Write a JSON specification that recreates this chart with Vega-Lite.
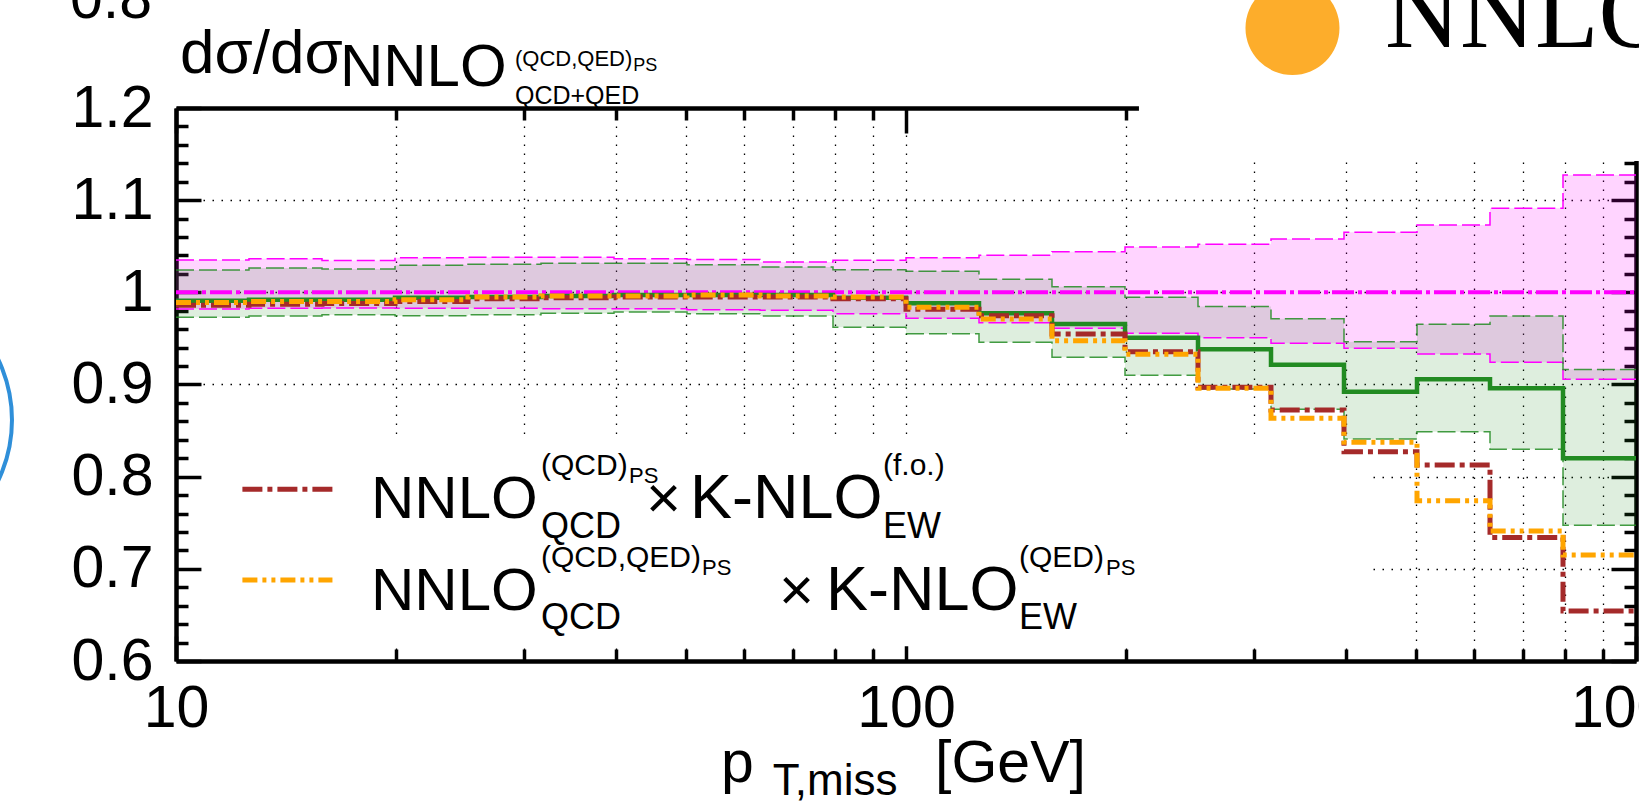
{
  "$schema": "https://vega.github.io/schema/vega-lite/v6.json",
  "width": 1460,
  "height": 553,
  "autosize": {"type": "none"},
  "padding": {"left": 176, "top": 108, "right": 3, "bottom": 140},
  "background": "white",
  "config": {
    "view": {"stroke": null},
    "axis": {"labelFont": "Liberation Sans", "labelColor": "black", "tickColor": "black", "domainColor": "black", "gridColor": "black", "title": null, "grid": false, "labelFlush": false, "labelOverlap": false, "labelBound": false}
  },
  "resolve": {"axis": {"x": "independent", "y": "independent"}},
  "datasets": {
    "bins": [
      {"x": 10, "mu": 1.035, "ml": 0.982, "gu": 1.0242, "gl": 0.9729, "gc": 0.991, "r": 0.986, "o": 0.989, "one": 1},
      {"x": 12.589, "mu": 1.0365, "ml": 0.9827, "gu": 1.0264, "gl": 0.9743, "gc": 0.992, "r": 0.987, "o": 0.99, "one": 1},
      {"x": 15.849, "mu": 1.0345, "ml": 0.983, "gu": 1.0253, "gl": 0.9757, "gc": 0.992, "r": 0.988, "o": 0.99, "one": 1},
      {"x": 19.953, "mu": 1.0376, "ml": 0.9827, "gu": 1.0293, "gl": 0.9747, "gc": 0.994, "r": 0.99, "o": 0.992, "one": 1},
      {"x": 25.119, "mu": 1.038, "ml": 0.9827, "gu": 1.0304, "gl": 0.9757, "gc": 0.995, "r": 0.993, "o": 0.995, "one": 1},
      {"x": 31.623, "mu": 1.038, "ml": 0.9823, "gu": 1.0315, "gl": 0.9772, "gc": 0.996, "r": 0.994, "o": 0.996, "one": 1},
      {"x": 39.811, "mu": 1.0365, "ml": 0.9823, "gu": 1.0315, "gl": 0.9787, "gc": 0.997, "r": 0.995, "o": 0.996, "one": 1},
      {"x": 50.119, "mu": 1.0355, "ml": 0.9812, "gu": 1.03, "gl": 0.9768, "gc": 0.997, "r": 0.995, "o": 0.997, "one": 1},
      {"x": 63.096, "mu": 1.033, "ml": 0.9805, "gu": 1.0275, "gl": 0.9743, "gc": 0.997, "r": 0.995, "o": 0.996, "one": 1},
      {"x": 79.433, "mu": 1.0347, "ml": 0.9768, "gu": 1.0246, "gl": 0.962, "gc": 0.994, "r": 0.993, "o": 0.995, "one": 1},
      {"x": 100, "mu": 1.0376, "ml": 0.9718, "gu": 1.023, "gl": 0.955, "gc": 0.9881, "r": 0.9816, "o": 0.9838, "one": 1},
      {"x": 125.89, "mu": 1.0402, "ml": 0.9671, "gu": 1.0141, "gl": 0.9458, "gc": 0.9772, "r": 0.9747, "o": 0.9711, "one": 1},
      {"x": 158.49, "mu": 1.0441, "ml": 0.961, "gu": 1.0061, "gl": 0.9295, "gc": 0.9657, "r": 0.9548, "o": 0.9476, "one": 1},
      {"x": 199.53, "mu": 1.0492, "ml": 0.9556, "gu": 0.9946, "gl": 0.91, "gc": 0.9508, "r": 0.9356, "o": 0.9327, "one": 1},
      {"x": 251.19, "mu": 1.0521, "ml": 0.9508, "gu": 0.9845, "gl": 0.895, "gc": 0.9382, "r": 0.897, "o": 0.896, "one": 1},
      {"x": 316.23, "mu": 1.0579, "ml": 0.9447, "gu": 0.9714, "gl": 0.8731, "gc": 0.9215, "r": 0.8724, "o": 0.8633, "one": 1},
      {"x": 398.11, "mu": 1.0651, "ml": 0.9393, "gu": 0.9465, "gl": 0.8409, "gc": 0.8922, "r": 0.8271, "o": 0.8373, "one": 1},
      {"x": 501.19, "mu": 1.0731, "ml": 0.9331, "gu": 0.9653, "gl": 0.8488, "gc": 0.9056, "r": 0.8127, "o": 0.774, "one": 1},
      {"x": 630.96, "mu": 1.0912, "ml": 0.9241, "gu": 0.9743, "gl": 0.8297, "gc": 0.8959, "r": 0.7341, "o": 0.741, "one": 1},
      {"x": 794.33, "mu": 1.1273, "ml": 0.9056, "gu": 0.9164, "gl": 0.7472, "gc": 0.8199, "r": 0.6542, "o": 0.715, "one": 1},
      {"x": 1000, "mu": 1.1273, "ml": 0.9056, "gu": 0.9164, "gl": 0.7472, "gc": 0.8199, "r": 0.6542, "o": 0.715, "one": 1}
    ]
  },
  "layer": [
    {
      "data": {"values": [{"x": 10.85, "x2": 430, "y": 0.616, "y2": 0.841}]},
      "mark": {"type": "rect", "color": "white", "opacity": 1},
      "encoding": {
        "x": {"field": "x", "type": "quantitative", "scale": {"type": "log", "domain": [10, 1000], "nice": false},
          "axis": {"orient": "bottom", "values": [10, 100, 1000], "format": "d", "tickSize": -25, "tickWidth": 3.5, "domainWidth": 4.5, "labelFontSize": 59, "labelPadding": 43}},
        "x2": {"field": "x2"},
        "y": {"field": "y", "type": "quantitative", "scale": {"domain": [0.6, 1.2], "nice": false, "zero": false},
          "axis": {"orient": "left", "values": [0.6, 0.7, 0.8, 0.9, 1.0, 1.1, 1.2], "format": "~g", "tickSize": -25, "tickWidth": 3.5, "domainWidth": 4.5, "labelFontSize": 59, "labelPadding": 48}},
        "y2": {"field": "y2"}
      }
    },
    {
      "data": {"values": [{"x": 208.5, "x2": 1100, "y": 1.1425, "y2": 1.4}]},
      "mark": {"type": "rect", "color": "white", "opacity": 1, "clip": false},
      "encoding": {
        "x": {"field": "x", "type": "quantitative", "scale": {"type": "log", "domain": [10, 1000], "nice": false},
          "axis": {"orient": "bottom", "values": [20, 30, 40, 50, 60, 70, 80, 90, 200, 300, 400, 500, 600, 700, 800, 900], "labels": false, "domain": false, "tickSize": -12, "tickWidth": 3.5}},
        "x2": {"field": "x2"},
        "y": {"field": "y", "type": "quantitative", "scale": {"domain": [0.6, 1.2], "nice": false, "zero": false},
          "axis": {"orient": "left", "values": [0.62, 0.64, 0.66, 0.68, 0.72, 0.74, 0.76, 0.78, 0.82, 0.84, 0.86, 0.88, 0.92, 0.94, 0.96, 0.98, 1.02, 1.04, 1.06, 1.08, 1.12, 1.14, 1.16, 1.18], "labels": false, "domain": false, "tickSize": -12, "tickWidth": 3.5}},
        "y2": {"field": "y2"}
      }
    },
    {
      "data": {"name": "bins"},
      "mark": {"type": "area", "interpolate": "step-after", "color": "#ff00ff", "opacity": 0.17},
      "encoding": {
        "x": {"field": "x", "type": "quantitative", "scale": {"type": "log", "domain": [10, 1000], "nice": false},
          "axis": {"orient": "top", "values": [10, 100, 1000], "labels": false, "tickSize": -25, "tickWidth": 3.5, "domainWidth": 4.5}},
        "y": {"field": "ml", "type": "quantitative", "scale": {"domain": [0.6, 1.2], "nice": false, "zero": false},
          "axis": {"orient": "right", "values": [0.6, 0.7, 0.8, 0.9, 1.0, 1.1, 1.2], "labels": false, "tickSize": -25, "tickWidth": 3.5, "domainWidth": 4.5}},
        "y2": {"field": "mu"}
      }
    },
    {
      "data": {"name": "bins"},
      "mark": {"type": "area", "interpolate": "step-after", "color": "#228b22", "opacity": 0.15},
      "encoding": {
        "x": {"field": "x", "type": "quantitative", "scale": {"type": "log", "domain": [10, 1000], "nice": false},
          "axis": {"orient": "top", "values": [20, 30, 40, 50, 60, 70, 80, 90, 200, 300, 400, 500, 600, 700, 800, 900], "labels": false, "domain": false, "tickSize": -12, "tickWidth": 3.5}},
        "y": {"field": "gl", "type": "quantitative", "scale": {"domain": [0.6, 1.2], "nice": false, "zero": false},
          "axis": {"orient": "right", "values": [0.62, 0.64, 0.66, 0.68, 0.72, 0.74, 0.76, 0.78, 0.82, 0.84, 0.86, 0.88, 0.92, 0.94, 0.96, 0.98, 1.02, 1.04, 1.06, 1.08, 1.12, 1.14, 1.16, 1.18], "labels": false, "domain": false, "tickSize": -12, "tickWidth": 3.5}},
        "y2": {"field": "gu"}
      }
    },
    {
      "data": {"name": "bins"},
      "mark": {"type": "line", "interpolate": "step-after", "color": "#ff00ff", "strokeWidth": 1.5, "strokeDash": [18, 5]},
      "encoding": {
        "x": {"field": "x", "type": "quantitative", "scale": {"type": "log", "domain": [10, 1000], "nice": false},
          "axis": {"orient": "bottom", "values": [20, 30, 40, 50, 60, 70, 80, 90, 100, 200, 300, 400, 500, 600, 700, 800, 900], "labels": false, "ticks": false, "domain": false, "grid": true, "gridDash": [1.5, 7.5], "gridWidth": 1.3, "gridOpacity": 1}},
        "y": {"field": "mu", "type": "quantitative", "scale": {"domain": [0.6, 1.2], "nice": false, "zero": false},
          "axis": {"orient": "left", "values": [0.7, 0.8, 0.9, 1.0, 1.1], "labels": false, "ticks": false, "domain": false, "grid": true, "gridDash": [1.5, 7.5], "gridWidth": 1.3, "gridOpacity": 1}}
      }
    },
    {
      "data": {"name": "bins"},
      "mark": {"type": "line", "interpolate": "step-after", "color": "#ff00ff", "strokeWidth": 1.5, "strokeDash": [18, 5]},
      "encoding": {
        "x": {"field": "x", "type": "quantitative", "scale": {"type": "log", "domain": [10, 1000], "nice": false}, "axis": null},
        "y": {"field": "ml", "type": "quantitative", "scale": {"domain": [0.6, 1.2], "nice": false, "zero": false}, "axis": null}
      }
    },
    {
      "data": {"name": "bins"},
      "mark": {"type": "line", "interpolate": "step-after", "color": "#228b22", "strokeWidth": 1.5, "strokeDash": [18, 5], "opacity": 0.85},
      "encoding": {
        "x": {"field": "x", "type": "quantitative", "scale": {"type": "log", "domain": [10, 1000], "nice": false}, "axis": null},
        "y": {"field": "gu", "type": "quantitative", "scale": {"domain": [0.6, 1.2], "nice": false, "zero": false}, "axis": null}
      }
    },
    {
      "data": {"name": "bins"},
      "mark": {"type": "line", "interpolate": "step-after", "color": "#228b22", "strokeWidth": 1.5, "strokeDash": [18, 5], "opacity": 0.85},
      "encoding": {
        "x": {"field": "x", "type": "quantitative", "scale": {"type": "log", "domain": [10, 1000], "nice": false}, "axis": null},
        "y": {"field": "gl", "type": "quantitative", "scale": {"domain": [0.6, 1.2], "nice": false, "zero": false}, "axis": null}
      }
    },
    {
      "data": {"name": "bins"},
      "mark": {"type": "line", "interpolate": "step-after", "color": "#ff00ff", "strokeWidth": 4, "strokeDash": [22, 4, 4, 4]},
      "encoding": {
        "x": {"field": "x", "type": "quantitative", "scale": {"type": "log", "domain": [10, 1000], "nice": false}, "axis": null},
        "y": {"field": "one", "type": "quantitative", "scale": {"domain": [0.6, 1.2], "nice": false, "zero": false}, "axis": null}
      }
    },
    {
      "data": {"name": "bins"},
      "mark": {"type": "line", "interpolate": "step-after", "color": "#228b22", "strokeWidth": 4.5},
      "encoding": {
        "x": {"field": "x", "type": "quantitative", "scale": {"type": "log", "domain": [10, 1000], "nice": false}, "axis": null},
        "y": {"field": "gc", "type": "quantitative", "scale": {"domain": [0.6, 1.2], "nice": false, "zero": false}, "axis": null}
      }
    },
    {
      "data": {"name": "bins"},
      "mark": {"type": "line", "interpolate": "step-after", "color": "#a52a2a", "strokeWidth": 5, "strokeDash": [20, 5, 5, 5]},
      "encoding": {
        "x": {"field": "x", "type": "quantitative", "scale": {"type": "log", "domain": [10, 1000], "nice": false}, "axis": null},
        "y": {"field": "r", "type": "quantitative", "scale": {"domain": [0.6, 1.2], "nice": false, "zero": false}, "axis": null}
      }
    },
    {
      "data": {"name": "bins"},
      "mark": {"type": "line", "interpolate": "step-after", "color": "#ffa500", "strokeWidth": 5, "strokeDash": [15, 5, 4, 5, 4, 5]},
      "encoding": {
        "x": {"field": "x", "type": "quantitative", "scale": {"type": "log", "domain": [10, 1000], "nice": false}, "axis": null},
        "y": {"field": "o", "type": "quantitative", "scale": {"domain": [0.6, 1.2], "nice": false, "zero": false}, "axis": null}
      }
    },
    {
      "data": {"values": [{"x": 12.33, "y": 0.7864}, {"x": 16.38, "y": 0.7864}]},
      "mark": {"type": "line", "color": "#a52a2a", "strokeWidth": 5, "strokeDash": [20, 5, 5, 5]},
      "encoding": {
        "x": {"field": "x", "type": "quantitative", "scale": {"type": "log", "domain": [10, 1000], "nice": false}, "axis": null},
        "y": {"field": "y", "type": "quantitative", "scale": {"domain": [0.6, 1.2], "nice": false, "zero": false}, "axis": null}
      }
    },
    {
      "data": {"values": [{"x": 12.33, "y": 0.6879}, {"x": 16.38, "y": 0.6879}]},
      "mark": {"type": "line", "color": "#ffa500", "strokeWidth": 5, "strokeDash": [15, 5, 4, 5, 4, 5]},
      "encoding": {
        "x": {"field": "x", "type": "quantitative", "scale": {"type": "log", "domain": [10, 1000], "nice": false}, "axis": null},
        "y": {"field": "y", "type": "quantitative", "scale": {"domain": [0.6, 1.2], "nice": false, "zero": false}, "axis": null}
      }
    },
    {
      "data": {"values": [{"t": "NNLO", "x": 18.5, "y": 0.7555}, {"t": "NNLO", "x": 18.5, "y": 0.6552}]},
      "mark": {"type": "text", "align": "left", "baseline": "alphabetic", "font": "Liberation Sans", "fontSize": 60, "color": "black", "clip": false},
      "encoding": {
        "x": {"field": "x", "type": "quantitative", "scale": {"type": "log", "domain": [10, 1000], "nice": false}, "axis": null},
        "y": {"field": "y", "type": "quantitative", "scale": {"domain": [0.6, 1.2], "nice": false, "zero": false}, "axis": null},
        "text": {"field": "t"}
      }
    },
    {
      "data": {"values": [{"t": "K-NLO", "x": 50.6, "y": 0.7555}, {"t": "K-NLO", "x": 77.7, "y": 0.6552}]},
      "mark": {"type": "text", "align": "left", "baseline": "alphabetic", "font": "Liberation Sans", "fontSize": 63, "color": "black", "clip": false},
      "encoding": {
        "x": {"field": "x", "type": "quantitative", "scale": {"type": "log", "domain": [10, 1000], "nice": false}, "axis": null},
        "y": {"field": "y", "type": "quantitative", "scale": {"domain": [0.6, 1.2], "nice": false, "zero": false}, "axis": null},
        "text": {"field": "t"}
      }
    },
    {
      "data": {"values": [{"t": "×", "x": 44.04, "y": 0.7555}, {"t": "×", "x": 66.99, "y": 0.6552}]},
      "mark": {"type": "text", "align": "left", "baseline": "alphabetic", "font": "Liberation Sans", "fontSize": 60, "color": "black", "clip": false},
      "encoding": {
        "x": {"field": "x", "type": "quantitative", "scale": {"type": "log", "domain": [10, 1000], "nice": false}, "axis": null},
        "y": {"field": "y", "type": "quantitative", "scale": {"domain": [0.6, 1.2], "nice": false, "zero": false}, "axis": null},
        "text": {"field": "t"}
      }
    },
    {
      "data": {"values": [{"t": "(QCD)", "x": 31.62, "y": 0.8018}, {"t": "(f.o.)", "x": 93.0, "y": 0.8018}, {"t": "(QCD,QED)", "x": 31.62, "y": 0.7015}, {"t": "(QED)", "x": 142.8, "y": 0.7015}]},
      "mark": {"type": "text", "align": "left", "baseline": "alphabetic", "font": "Liberation Sans", "fontSize": 30, "color": "black", "clip": false},
      "encoding": {
        "x": {"field": "x", "type": "quantitative", "scale": {"type": "log", "domain": [10, 1000], "nice": false}, "axis": null},
        "y": {"field": "y", "type": "quantitative", "scale": {"domain": [0.6, 1.2], "nice": false, "zero": false}, "axis": null},
        "text": {"field": "t"}
      }
    },
    {
      "data": {"values": [{"t": "PS", "x": 41.74, "y": 0.7931}, {"t": "PS", "x": 52.54, "y": 0.6933}, {"t": "PS", "x": 187.9, "y": 0.6933}]},
      "mark": {"type": "text", "align": "left", "baseline": "alphabetic", "font": "Liberation Sans", "fontSize": 22, "color": "black", "clip": false},
      "encoding": {
        "x": {"field": "x", "type": "quantitative", "scale": {"type": "log", "domain": [10, 1000], "nice": false}, "axis": null},
        "y": {"field": "y", "type": "quantitative", "scale": {"domain": [0.6, 1.2], "nice": false, "zero": false}, "axis": null},
        "text": {"field": "t"}
      }
    },
    {
      "data": {"values": [{"t": "QCD", "x": 31.62, "y": 0.7335}, {"t": "EW", "x": 93.0, "y": 0.7335}, {"t": "QCD", "x": 31.62, "y": 0.6347}, {"t": "EW", "x": 142.8, "y": 0.6347}]},
      "mark": {"type": "text", "align": "left", "baseline": "alphabetic", "font": "Liberation Sans", "fontSize": 36, "color": "black", "clip": false},
      "encoding": {
        "x": {"field": "x", "type": "quantitative", "scale": {"type": "log", "domain": [10, 1000], "nice": false}, "axis": null},
        "y": {"field": "y", "type": "quantitative", "scale": {"domain": [0.6, 1.2], "nice": false, "zero": false}, "axis": null},
        "text": {"field": "t"}
      }
    },
    {
      "data": {"values": [{"t": "dσ/dσ", "x": 10.13, "y": 1.238}]},
      "mark": {"type": "text", "align": "left", "baseline": "alphabetic", "font": "Liberation Sans", "fontSize": 62, "color": "black", "clip": false},
      "encoding": {
        "x": {"field": "x", "type": "quantitative", "scale": {"type": "log", "domain": [10, 1000], "nice": false}, "axis": null},
        "y": {"field": "y", "type": "quantitative", "scale": {"domain": [0.6, 1.2], "nice": false, "zero": false}, "axis": null},
        "text": {"field": "t"}
      }
    },
    {
      "data": {"values": [{"t": "NNLO", "x": 16.77, "y": 1.2239}]},
      "mark": {"type": "text", "align": "left", "baseline": "alphabetic", "font": "Liberation Sans", "fontSize": 60, "color": "black", "clip": false},
      "encoding": {
        "x": {"field": "x", "type": "quantitative", "scale": {"type": "log", "domain": [10, 1000], "nice": false}, "axis": null},
        "y": {"field": "y", "type": "quantitative", "scale": {"domain": [0.6, 1.2], "nice": false, "zero": false}, "axis": null},
        "text": {"field": "t"}
      }
    },
    {
      "data": {"values": [{"t": "(QCD,QED)", "x": 29.13, "y": 1.2456}]},
      "mark": {"type": "text", "align": "left", "baseline": "alphabetic", "font": "Liberation Sans", "fontSize": 22, "color": "black", "clip": false},
      "encoding": {
        "x": {"field": "x", "type": "quantitative", "scale": {"type": "log", "domain": [10, 1000], "nice": false}, "axis": null},
        "y": {"field": "y", "type": "quantitative", "scale": {"domain": [0.6, 1.2], "nice": false, "zero": false}, "axis": null},
        "text": {"field": "t"}
      }
    },
    {
      "data": {"values": [{"t": "QCD+QED", "x": 29.13, "y": 1.2045}]},
      "mark": {"type": "text", "align": "left", "baseline": "alphabetic", "font": "Liberation Sans", "fontSize": 25, "color": "black", "clip": false},
      "encoding": {
        "x": {"field": "x", "type": "quantitative", "scale": {"type": "log", "domain": [10, 1000], "nice": false}, "axis": null},
        "y": {"field": "y", "type": "quantitative", "scale": {"domain": [0.6, 1.2], "nice": false, "zero": false}, "axis": null},
        "text": {"field": "t"}
      }
    },
    {
      "data": {"values": [{"t": "PS", "x": 42.3, "y": 1.2401}]},
      "mark": {"type": "text", "align": "left", "baseline": "alphabetic", "font": "Liberation Sans", "fontSize": 18, "color": "black", "clip": false},
      "encoding": {
        "x": {"field": "x", "type": "quantitative", "scale": {"type": "log", "domain": [10, 1000], "nice": false}, "axis": null},
        "y": {"field": "y", "type": "quantitative", "scale": {"domain": [0.6, 1.2], "nice": false, "zero": false}, "axis": null},
        "text": {"field": "t"}
      }
    },
    {
      "data": {"values": [{"t": "p", "x": 55.8, "y": 0.4687}, {"t": "[GeV]", "x": 109.6, "y": 0.4687}]},
      "mark": {"type": "text", "align": "left", "baseline": "alphabetic", "font": "Liberation Sans", "fontSize": 59, "color": "black", "clip": false},
      "encoding": {
        "x": {"field": "x", "type": "quantitative", "scale": {"type": "log", "domain": [10, 1000], "nice": false}, "axis": null},
        "y": {"field": "y", "type": "quantitative", "scale": {"domain": [0.6, 1.2], "nice": false, "zero": false}, "axis": null},
        "text": {"field": "t"}
      }
    },
    {
      "data": {"values": [{"t": "T,miss", "x": 65.7, "y": 0.4546}]},
      "mark": {"type": "text", "align": "left", "baseline": "alphabetic", "font": "Liberation Sans", "fontSize": 44, "color": "black", "clip": false},
      "encoding": {
        "x": {"field": "x", "type": "quantitative", "scale": {"type": "log", "domain": [10, 1000], "nice": false}, "axis": null},
        "y": {"field": "y", "type": "quantitative", "scale": {"domain": [0.6, 1.2], "nice": false, "zero": false}, "axis": null},
        "text": {"field": "t"}
      }
    },
    {
      "data": {"values": [{"t": "0.8", "x": 9.27, "y": 1.2976}]},
      "mark": {"type": "text", "align": "right", "baseline": "alphabetic", "font": "Liberation Sans", "fontSize": 59, "color": "black", "clip": false},
      "encoding": {
        "x": {"field": "x", "type": "quantitative", "scale": {"type": "log", "domain": [10, 1000], "nice": false}, "axis": null},
        "y": {"field": "y", "type": "quantitative", "scale": {"domain": [0.6, 1.2], "nice": false, "zero": false}, "axis": null},
        "text": {"field": "t"}
      }
    },
    {
      "data": {"values": [{"x": 3.833, "y": 0.8615}]},
      "mark": {"type": "point", "shape": "circle", "filled": false, "stroke": "#2f8fd9", "strokeWidth": 4, "opacity": 1, "size": 78400, "clip": false},
      "encoding": {
        "x": {"field": "x", "type": "quantitative", "scale": {"type": "log", "domain": [10, 1000], "nice": false}, "axis": null},
        "y": {"field": "y", "type": "quantitative", "scale": {"domain": [0.6, 1.2], "nice": false, "zero": false}, "axis": null}
      }
    },
    {
      "data": {"values": [{"x": 338.4, "y": 1.2868}]},
      "mark": {"type": "point", "shape": "circle", "filled": true, "color": "#fdad2b", "opacity": 1, "size": 8836, "clip": false},
      "encoding": {
        "x": {"field": "x", "type": "quantitative", "scale": {"type": "log", "domain": [10, 1000], "nice": false}, "axis": null},
        "y": {"field": "y", "type": "quantitative", "scale": {"domain": [0.6, 1.2], "nice": false, "zero": false}, "axis": null}
      }
    },
    {
      "data": {"values": [{"t": "NNLO", "x": 452.9, "y": 1.2662}]},
      "mark": {"type": "text", "align": "left", "baseline": "alphabetic", "font": "Liberation Serif", "fontSize": 104, "color": "black", "clip": false},
      "encoding": {
        "x": {"field": "x", "type": "quantitative", "scale": {"type": "log", "domain": [10, 1000], "nice": false}, "axis": null},
        "y": {"field": "y", "type": "quantitative", "scale": {"domain": [0.6, 1.2], "nice": false, "zero": false}, "axis": null},
        "text": {"field": "t"}
      }
    }
  ]
}
